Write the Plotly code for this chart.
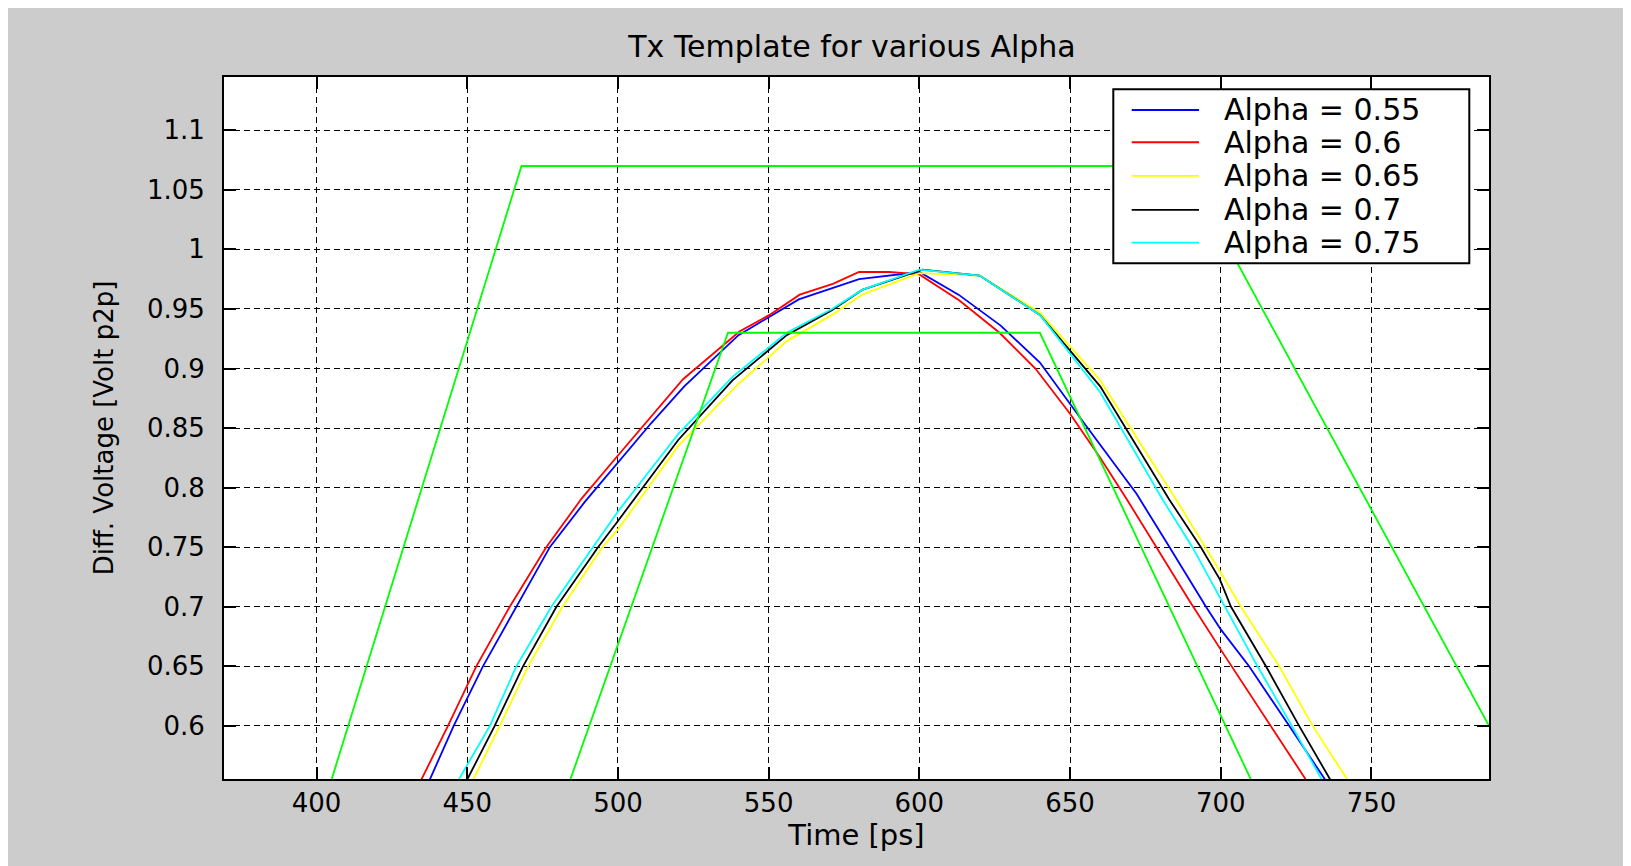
import plotly.graph_objects as go

# ---------------- data ----------------
x_a055 = [437.6, 445.5, 455.2, 466.3, 477.4, 489, 500, 511, 522, 540, 560, 580, 600, 613, 627, 640, 655, 672, 681.8, 695.1, 700, 709.4, 722.7, 734.6]
y_a055 = [0.555, 0.60, 0.65, 0.70, 0.75, 0.788, 0.821, 0.854, 0.885, 0.928, 0.958, 0.975, 0.981, 0.962, 0.936, 0.905, 0.853, 0.795, 0.755, 0.70, 0.681, 0.65, 0.60, 0.555]

x_a060 = [434.8, 443.6, 453.0, 464.1, 476.2, 488, 500, 511, 521.6, 540.3, 550.3, 560.3, 571.3, 580, 590, 600, 613.3, 626.6, 638.5, 650, 660, 668.4, 678, 689.6, 700, 716.6, 728.2]
y_a060 = [0.555, 0.60, 0.65, 0.70, 0.75, 0.791, 0.827, 0.86, 0.891, 0.931, 0.945, 0.962, 0.971, 0.981, 0.981, 0.979, 0.957, 0.93, 0.90, 0.862, 0.825, 0.792, 0.753, 0.705, 0.664, 0.60, 0.555]

x_a065 = [452, 460.8, 470.2, 481.6, 494.8, 500, 520, 540, 556, 571, 581, 600, 620, 640, 660, 685.2, 699.7, 706.7, 719.4, 730.5, 742]
y_a065 = [0.555, 0.60, 0.65, 0.70, 0.75, 0.765, 0.835, 0.887, 0.923, 0.945, 0.962, 0.98, 0.978, 0.947, 0.89, 0.79, 0.73, 0.70, 0.65, 0.60, 0.555]

x_a070 = [450, 459.1, 468.5, 479.6, 493.4, 500, 520, 538, 556, 571, 581, 601, 620, 640, 660, 682.9, 693.4, 699.7, 703.4, 715, 726, 736.3]
y_a070 = [0.555, 0.60, 0.65, 0.70, 0.75, 0.772, 0.84, 0.89, 0.928, 0.949, 0.966, 0.983, 0.978, 0.945, 0.885, 0.79, 0.75, 0.723, 0.70, 0.65, 0.60, 0.555]

x_a075 = [447.2, 457.5, 466.3, 477.9, 491.7, 500, 520, 538, 556, 571, 581, 600, 620, 640, 660, 680.7, 690.6, 700, 712.2, 723.6, 733.5]
y_a075 = [0.555, 0.60, 0.65, 0.70, 0.75, 0.78, 0.845, 0.893, 0.930, 0.950, 0.966, 0.983, 0.978, 0.945, 0.88, 0.79, 0.75, 0.706, 0.65, 0.60, 0.555]

# template masks (green)
mask_upper_x = [405, 468, 688, 789]
mask_upper_y = [0.555, 1.07, 1.07, 0.60]
mask_lower_x = [484.2, 536.5, 640, 710]
mask_lower_y = [0.555, 0.93, 0.93, 0.555]

series_names = ["Alpha = 0.55", "Alpha = 0.6", "Alpha = 0.65", "Alpha = 0.7", "Alpha = 0.75"]
series_x = [x_a055, x_a060, x_a065, x_a070, x_a075]
series_y = [y_a055, y_a060, y_a065, y_a070, y_a075]
series_colors = ["#0000ff", "#ff0000", "#ffff00", "#000000", "#00ffff"]

x_ticks = [400, 450, 500, 550, 600, 650, 700, 750]
y_ticks = [0.6, 0.65, 0.7, 0.75, 0.8, 0.85, 0.9, 0.95, 1.0, 1.05, 1.1]
y_ticklabels = ["0.6", "0.65", "0.7", "0.75", "0.8", "0.85", "0.9", "0.95", "1", "1.05", "1.1"]

# ---------------- figure ----------------
W, H = 1623, 858           # page has an 8px body margin
L, R, T, B = 216, 1481, 69, 771.5
pw, ph = R - L, B - T

def px_x(p):
    return (p - L) / pw

def px_y(p):
    return (B - p) / ph

fig = go.Figure()
for name, xs, ys, c in zip(series_names, series_x, series_y, series_colors):
    fig.add_trace(go.Scatter(x=xs, y=ys, mode="lines", name=name, showlegend=False,
                             line=dict(color=c, width=1.8)))
fig.add_trace(go.Scatter(x=mask_upper_x, y=mask_upper_y, mode="lines", showlegend=False,
                         name="template", line=dict(color="#00ff00", width=1.8), hoverinfo="skip"))
fig.add_trace(go.Scatter(x=mask_lower_x, y=mask_lower_y, mode="lines", showlegend=False,
                         name="template", line=dict(color="#00ff00", width=1.8), hoverinfo="skip"))

axis_common = dict(
    showline=True, linecolor="black", linewidth=2, mirror="ticks",
    ticks="inside", ticklen=12, tickwidth=1.5, tickcolor="black",
    showgrid=True, gridcolor="black", gridwidth=1, griddash="6px,4px",
    zeroline=False, tickfont=dict(family="DejaVu Sans", size=26, color="black"),
)

fig.update_xaxes(range=[369.3, 789], tickmode="array", tickvals=x_ticks,
                 title=dict(text="Time [ps]", font=dict(family="DejaVu Sans", size=29, color="black"), standoff=4),
                 ticklabelstandoff=0, **axis_common)
fig.update_yaxes(range=[0.5554, 1.1447], tickmode="array", tickvals=y_ticks, ticktext=y_ticklabels,
                 title=dict(text="Diff. Voltage [Volt p2p]", font=dict(family="DejaVu Sans", size=26, color="black"), standoff=26),
                 ticklabelstandoff=12, **axis_common)

# legend box drawn in the MATLAB style (box, line samples, labels)
leg_left, leg_right, leg_top, leg_bottom = 1105.3, 1461.3, 81.3, 255.3
leg_rows = [102, 134.3, 168, 202, 234.7]
shapes = [dict(type="rect", xref="paper", yref="paper", layer="above",
               x0=px_x(leg_left), x1=px_x(leg_right), y0=px_y(leg_bottom), y1=px_y(leg_top),
               fillcolor="white", line=dict(color="black", width=2))]
annotations = []
for name, c, ry in zip(series_names, series_colors, leg_rows):
    shapes.append(dict(type="line", xref="paper", yref="paper", layer="above",
                       x0=px_x(1123.7), x1=px_x(1191), y0=px_y(ry), y1=px_y(ry),
                       line=dict(color=c, width=1.8)))
    annotations.append(dict(text=name, xref="paper", yref="paper", x=px_x(1213.7), y=px_y(ry),
                            xanchor="left", yanchor="middle", showarrow=False,
                            font=dict(family="DejaVu Sans", size=30, color="black")))

fig.update_layout(
    width=W, height=H,
    margin=dict(l=L, r=W - R, t=T, b=H - B, autoexpand=False),
    paper_bgcolor="#cccccc", plot_bgcolor="white",
    title=dict(text="Tx Template for various Alpha", x=844 / W, xanchor="center",
               y=1 - 38 / H, yanchor="middle", yref="container",
               font=dict(family="DejaVu Sans", size=30, color="black")),
    showlegend=False,
    shapes=shapes,
    annotations=annotations,
)

fig.write_html("out.html")
